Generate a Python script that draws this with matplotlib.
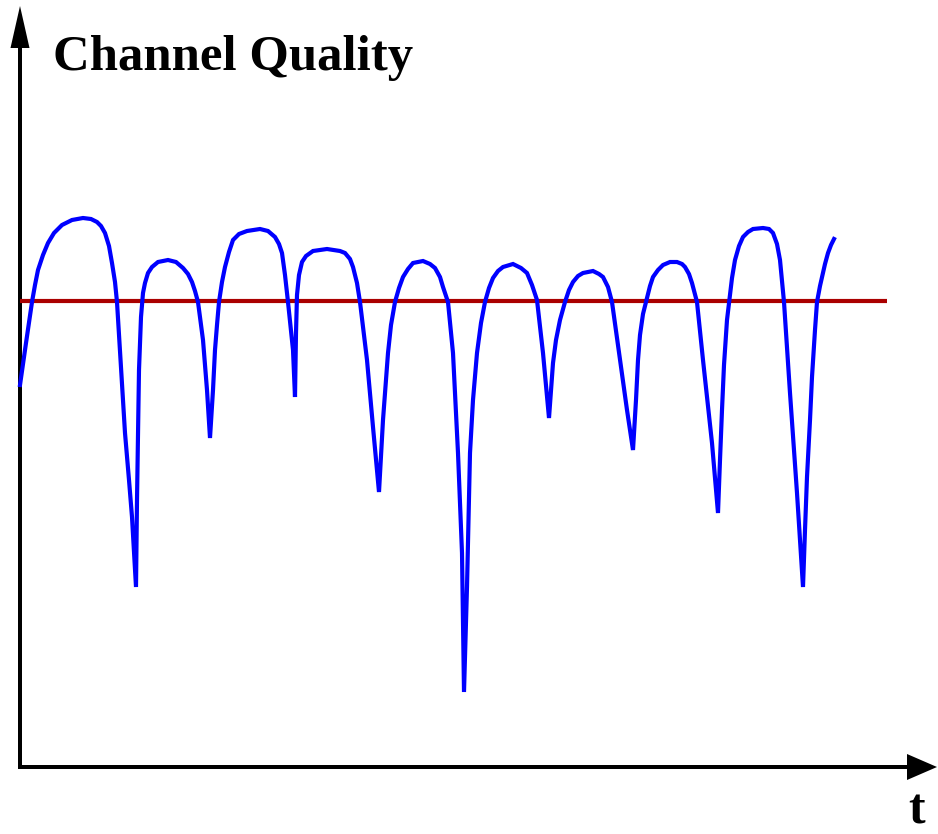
import matplotlib
matplotlib.use("Agg")
import matplotlib.pyplot as plt

# channel quality trace (t, quality in pixel-like units, origin at the axes corner)
# one row per fade: rise, crest, then the drop into the next notch
t = [0, 6, 12, 15, 18, 23, 28, 34, 42, 52, 63, 71, 77, 81, 85, 89, 92, 95, 97, 101, 105, 109, 112, 116,
     117, 118, 119, 121, 123, 125, 128, 132, 138, 148, 156, 163, 168, 172, 175, 178, 183, 187, 190,
     193, 195, 197, 199, 202, 205, 209, 213, 219, 227, 240, 248, 255, 259, 262, 265, 268, 273, 275,
     276, 277, 279, 282, 286, 293, 307, 320, 325, 330, 333, 337, 340, 347, 353, 359,
     361, 363, 368, 371, 375, 379, 383, 388, 393, 403, 410, 415, 420, 423, 428, 433, 438, 442, 444,
     446, 447, 450, 453, 457, 461, 465, 469, 473, 478, 483, 493, 501, 507, 512, 517, 523, 529,
     531, 533, 536, 540, 545, 549, 553, 558, 563, 573, 579, 583, 588, 592, 600, 607, 613,
     616, 618, 620, 623, 627, 630, 633, 638, 643, 650, 657, 662, 665, 669, 672, 677, 683, 692, 698,
     700, 702, 704, 707, 710, 712, 715, 719, 723, 728, 733, 743, 749, 753, 757, 760, 764, 770, 777, 783,
     785, 787, 790, 792, 795, 797, 800, 802, 805, 808, 811, 814]
quality = [382, 424, 465, 482, 497, 512, 524, 534, 542, 547, 549, 548, 545, 541, 534, 521, 504, 485, 465, 400, 334, 287, 250, 180,
           267, 334, 397, 450, 474, 484, 494, 500, 505, 507, 505, 499, 493, 485, 476, 465, 427, 377, 329,
           377, 417, 442, 465, 485, 500, 515, 527, 533, 536, 538, 536, 530, 523, 514, 492, 465, 417, 370,
           434, 472, 492, 505, 511, 516, 518, 516, 514, 508, 500, 484, 465, 407, 340, 275,
           312, 347, 414, 442, 465, 479, 490, 498, 504, 506, 503, 499, 490, 480, 465, 414, 314, 214, 75,
           147, 180, 314, 367, 414, 444, 465, 479, 489, 496, 500, 503, 499, 494, 482, 467, 414, 349,
           377, 404, 427, 447, 465, 477, 485, 491, 494, 496, 493, 490, 480, 465, 407, 357, 317,
           367, 407, 432, 453, 469, 481, 490, 497, 502, 505, 505, 503, 500, 493, 484, 465, 407, 324, 254,
           307, 357, 402, 447, 472, 489, 507, 521, 530, 535, 538, 539, 538, 534, 523, 507, 465, 374, 274, 180,
           237, 290, 347, 390, 437, 465, 481, 490, 503, 514, 522, 528]

threshold = 466
threshold_end = 867

fig = plt.figure(figsize=(9.38, 8.34), dpi=100)
ax = fig.add_axes([0, 0, 1, 1])
ax.set_xlim(-20, 918)
ax.set_ylim(-67, 767)
ax.axis('off')

# axes with arrow heads
ax.arrow(0, -2, 0, 763, width=4, head_width=19, head_length=42,
         length_includes_head=True, fc='black', ec='none')
ax.arrow(-2, 0, 919, 0, width=4, head_width=26, head_length=30,
         length_includes_head=True, fc='black', ec='none')

ax.plot([0, threshold_end], [threshold, threshold], color='#aa0000', lw=3, solid_capstyle='butt')
ax.plot(t, quality, color='#0000ff', lw=3, solid_joinstyle='miter')

ax.text(33, 697, 'Channel Quality', family='Liberation Serif', weight='bold',
        fontsize=36.5, ha='left', va='baseline')
ax.text(897, -56, 't', family='Liberation Serif', weight='bold',
        fontsize=36, ha='center', va='baseline')

plt.savefig('out.png', dpi=100)
plt.close()
